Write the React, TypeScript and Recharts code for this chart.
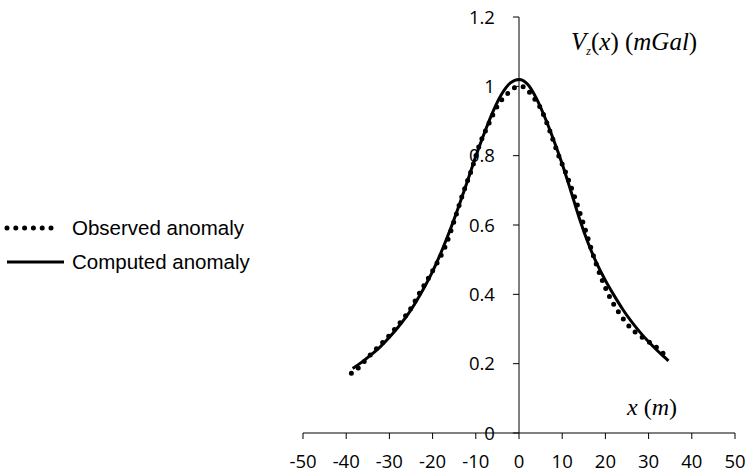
import { LineChart, Line, XAxis, YAxis, ReferenceLine, Legend } from "recharts"

const xTicks = [-50, -40, -30, -20, -10, 0, 10, 20, 30, 40, 50]
const yTicks = [0, 0.2, 0.4, 0.6, 0.8, 1, 1.2]
const yTickLabels = ["0", "0.2", "0.4", "0.6", "0.8", "1", "1.2"]

// observed anomaly (dotted)
const observedX = [-38.8, -37, -35, -33, -31, -29, -27, -25, -23, -21, -19, -17, -15, -13, -11, -9, -7, -5, -3, -1, 1, 3, 5, 7, 9, 11, 13, 15, 17, 19, 21, 23, 25, 27, 29, 31, 33, 34.6]
const observedY = [0.172, 0.19, 0.218, 0.243, 0.268, 0.296, 0.326, 0.36, 0.404, 0.446, 0.49, 0.54, 0.612, 0.69, 0.759, 0.836, 0.892, 0.944, 0.974, 0.996, 0.999, 0.973, 0.937, 0.876, 0.806, 0.745, 0.676, 0.6, 0.52, 0.449, 0.392, 0.35, 0.315, 0.29, 0.272, 0.255, 0.234, 0.214]

// computed anomaly (solid)
const computedX = [-38.5, -36, -34, -32, -30, -28, -26, -24, -22, -20, -18, -16, -14, -12, -10, -8, -6, -4, -2, 0, 2, 4, 6, 8, 10, 12, 14, 16, 18, 20, 22, 24, 26, 28, 30, 32, 34, 34.6]
const computedY = [0.186, 0.208, 0.228, 0.25, 0.276, 0.305, 0.337, 0.375, 0.418, 0.466, 0.522, 0.584, 0.652, 0.724, 0.798, 0.866, 0.928, 0.978, 1.01, 1.02, 1.006, 0.966, 0.91, 0.846, 0.776, 0.698, 0.618, 0.548, 0.489, 0.44, 0.397, 0.357, 0.322, 0.291, 0.263, 0.238, 0.215, 0.208]

const observed = observedX.map((x, i) => ({ x, y: observedY[i] }))
const computed = computedX.map((x, i) => ({ x, y: computedY[i] }))

const tickFont = "'Open Sans', sans-serif"
const legendFont = "'Liberation Sans', Arial, sans-serif"
const titleFont = "'Liberation Serif', 'Times New Roman', serif"

function LegendBox() {
  const rows = [
    { name: "Observed anomaly", dash: "0 8.8", width: 5, x2: 58 },
    { name: "Computed anomaly", dash: undefined, width: 3, x2: 64 },
  ]
  return (
    <div style={{ fontFamily: legendFont, fontSize: 20.5, color: "#000" }}>
      {rows.map((r) => (
        <div key={r.name} style={{ display: "flex", alignItems: "center", height: 34 }}>
          <svg width={72} height={10}>
            <line
              x1={7}
              y1={5}
              x2={r.x2}
              y2={5}
              stroke="#000"
              strokeWidth={r.width}
              strokeDasharray={r.dash}
              strokeLinecap={r.dash ? "round" : "butt"}
            />
          </svg>
          <span>{r.name}</span>
        </div>
      ))}
    </div>
  )
}

function YTitle(props: any) {
  const { viewBox } = props
  const x = viewBox.x + 52
  const y = viewBox.y + 33
  return (
    <text x={x} y={y} fontFamily={titleFont} fontSize={25} fill="#000">
      <tspan fontStyle="italic">V</tspan>
      <tspan fontStyle="italic" fontSize={12} dy={5}>z</tspan>
      <tspan dy={-5}>(</tspan>
      <tspan fontStyle="italic">x</tspan>
      <tspan>) (</tspan>
      <tspan fontStyle="italic">mGal</tspan>
      <tspan>)</tspan>
    </text>
  )
}

function XTitle(props: any) {
  const { viewBox } = props
  const x = viewBox.x + 324
  const y = viewBox.y - 18
  return (
    <text x={x} y={y} fontFamily={titleFont} fontSize={24} fill="#000">
      <tspan fontStyle="italic">x</tspan>
      <tspan> (</tspan>
      <tspan fontStyle="italic">m</tspan>
      <tspan>)</tspan>
    </text>
  )
}

export default function App() {
  return (
    <div style={{ position: "absolute", left: 0, top: 0 }}>
      <LineChart width={745} height={473} margin={{ top: 17, right: 10, bottom: 0, left: 303 }}>
        <XAxis
          type="number"
          dataKey="x"
          domain={[-50, 50]}
          ticks={xTicks}
          height={40}
          tickSize={6}
          tickMargin={16}
          axisLine={{ stroke: "#000" }}
          tickLine={{ stroke: "#000" }}
          tick={{ fill: "#000", fontSize: 18.5, fontFamily: tickFont }}
          label={<XTitle />}
        />
        <YAxis type="number" domain={[0, 1.2]} ticks={yTicks} hide />
        <ReferenceLine x={0} stroke="#000" strokeWidth={1} label={<YTitle />} />
        {yTicks.map((t, i) => (
          <ReferenceLine
            key={t}
            segment={[
              { x: -1.4, y: t },
              { x: 0, y: t },
            ]}
            stroke="#000"
            label={{
              value: yTickLabels[i],
              position: "left",
              offset: 18,
              fill: "#000",
              fontSize: 18.5,
              fontFamily: tickFont,
            }}
          />
        ))}
        <Line
          data={observed}
          dataKey="y"
          name="Observed anomaly"
          type="monotone"
          stroke="#000"
          strokeWidth={5}
          strokeDasharray="0 8.8"
          strokeLinecap="round"
          dot={false}
          activeDot={false}
          isAnimationActive={false}
        />
        <Line
          data={computed}
          dataKey="y"
          name="Computed anomaly"
          type="monotone"
          stroke="#000"
          strokeWidth={3}
          dot={false}
          activeDot={false}
          isAnimationActive={false}
        />
        <Legend
          layout="horizontal"
          verticalAlign="middle"
          align="center"
          content={() => <LegendBox />}
          wrapperStyle={{ left: 0, top: 211, width: 280 }}
        />
      </LineChart>
    </div>
  )
}
